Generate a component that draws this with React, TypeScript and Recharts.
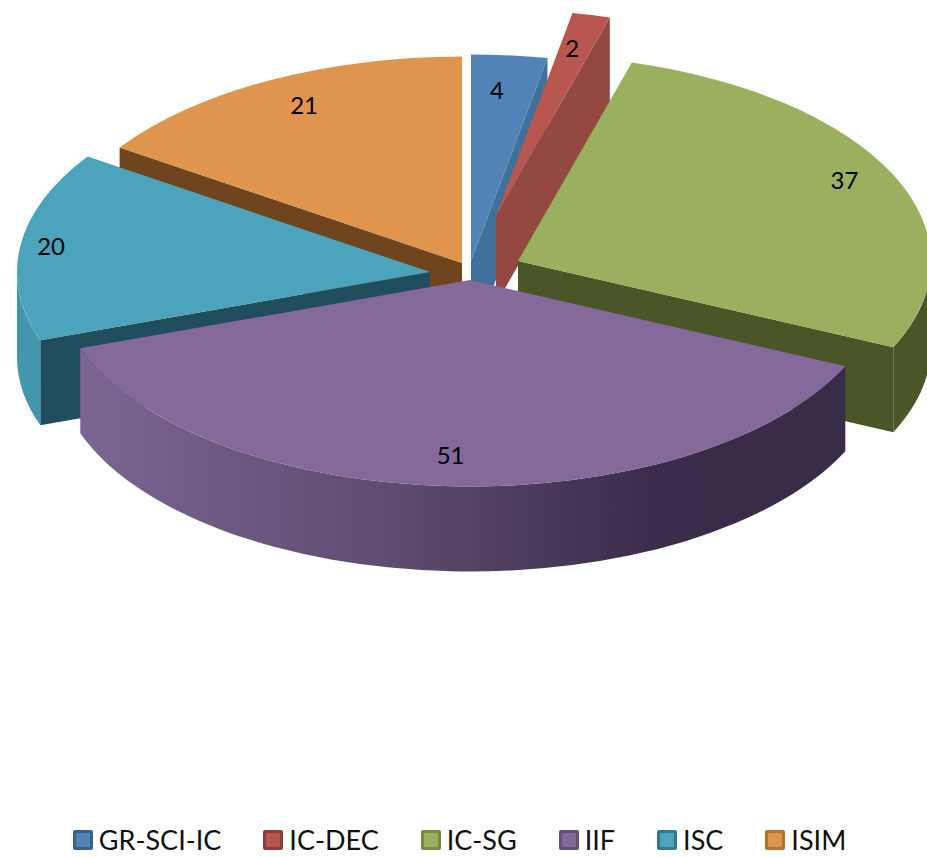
import React from 'react';
import { PieChart, Pie, Legend } from 'recharts';

const NAMES = ['GR-SCI-IC', 'IC-DEC', 'IC-SG', 'IIF', 'ISC', 'ISIM'];
const VALUES = [4, 2, 37, 51, 20, 21];

const TOP_COLORS = ['#5183b6', '#b8574f', '#9bb05e', '#85699b', '#4ba3bc', '#e0954f'];
const FACE_COLORS = ['#40709c', '#934842', '#4a5528', '#5f4c70', '#214e5c', '#6e451e'];
const RIM_COLORS = ['#40709c', '#934842', '#4a5528', 'url(#iifRim)', '#4496ac', '#b87a3e'];
const LEGEND_BORDERS = ['#38618c', '#8c3f3a', '#748a42', '#65507a', '#34788c', '#b0722f'];

// how far each slice is pulled out of the pie, in pixels
const SHIFT_X = [1, 26, 48, 0, -40, -8];
const SHIFT_Y = [-19, -64, -19, 0, -8, -17];
const DEPTHS = [85, 88, 85, 85, 85, 85];
const LABEL_RADIUS = [0.83, 0.8, 0.87, 0.855, 0.925, 0.84];
const LABEL_NUDGE_X = [-6, 0, 0, -3, 0, 5];
const LABEL_NUDGE_Y = [-1, -8, -7, -2, -2, -5];

// back-most slices go first, the big front slice goes last
const DRAW_ORDER = ['GR-SCI-IC', 'IC-DEC', 'IC-SG', 'ISIM', 'ISC', 'IIF'];

const data = NAMES.map((name, i) => ({ name, value: VALUES[i] }));

const SQUASH = 0.5;
const RAD = Math.PI / 180;

const point = (cx: number, cy: number, r: number, clock: number) => ({
  x: cx + r * Math.sin(clock * RAD),
  y: cy - r * SQUASH * Math.cos(clock * RAD),
});

const SliceShape = (props: any, only: string) => {
  if (props.name !== only) return <g />;
  const i = NAMES.indexOf(props.name);
  const depth = DEPTHS[i];
  const cx = props.cx + SHIFT_X[i];
  const cy = props.cy + SHIFT_Y[i];
  const r = props.outerRadius;
  const ry = r * SQUASH;
  const a = 90 - props.startAngle;
  const b = 90 - props.endAngle;
  const pa = point(cx, cy, r, a);
  const pb = point(cx, cy, r, b);
  const large = b - a > 180 ? 1 : 0;
  const top = `M${cx},${cy} L${pa.x},${pa.y} A${r},${ry} 0 ${large} 1 ${pb.x},${pb.y} Z`;

  const face = (p: { x: number; y: number }) =>
    `M${cx},${cy} L${p.x},${p.y} L${p.x},${p.y + depth} L${cx},${cy + depth} Z`;

  let rim = null;
  const from = Math.max(a, 90);
  const to = Math.min(b, 270);
  if (to > from) {
    const p1 = point(cx, cy, r, from);
    const p2 = point(cx, cy, r, to);
    const big = to - from > 180 ? 1 : 0;
    rim = (
      <path
        d={`M${p1.x},${p1.y} A${r},${ry} 0 ${big} 1 ${p2.x},${p2.y} L${p2.x},${p2.y + depth} A${r},${ry} 0 ${big} 0 ${p1.x},${p1.y + depth} Z`}
        fill={RIM_COLORS[i]}
      />
    );
  }

  return (
    <g>
      {Math.sin(a * RAD) < 0 && <path d={face(pa)} fill={FACE_COLORS[i]} />}
      {Math.sin(b * RAD) > 0 && <path d={face(pb)} fill={FACE_COLORS[i]} />}
      {rim}
      <path d={top} fill={TOP_COLORS[i]} />
    </g>
  );
};

const renderLabel = (props: any) => {
  const i = NAMES.indexOf(props.name);
  const p = point(
    props.cx + SHIFT_X[i],
    props.cy + SHIFT_Y[i],
    props.outerRadius * LABEL_RADIUS[i],
    90 - props.midAngle
  );
  return (
    <text
      x={p.x + LABEL_NUDGE_X[i]}
      y={p.y + LABEL_NUDGE_Y[i]}
      textAnchor="middle"
      dominantBaseline="central"
      fontFamily="Lato, sans-serif"
      fontSize={24}
      fill="#000"
    >
      {props.value}
    </text>
  );
};

const renderLegend = () => (
  <div style={{ display: 'flex', justifyContent: 'center', paddingTop: 6, fontFamily: 'Lato, sans-serif', fontSize: 27, color: '#111' }}>
    {NAMES.map((name, i) => (
      <div key={name} style={{ display: 'flex', alignItems: 'center', marginLeft: i === 0 ? 0 : 42 }}>
        <span
          style={{
            boxSizing: 'border-box',
            width: 20,
            height: 20,
            marginRight: 6,
            background: TOP_COLORS[i],
            border: `3px solid ${LEGEND_BORDERS[i]}`,
            borderRadius: 2,
          }}
        />
        {name}
      </div>
    ))}
  </div>
);

export default function App() {
  return (
    <div style={{ position: 'absolute', left: 0, top: 0, background: '#fff' }}>
      <PieChart width={927} height={857} margin={{ top: 0, right: 0, bottom: 0, left: 0 }}>
        <defs>
          <linearGradient id="iifRim" gradientUnits="userSpaceOnUse" x1="80" y1="0" x2="845" y2="0">
            <stop offset="0%" stopColor="#7b6593" />
            <stop offset="40%" stopColor="#5f4c70" />
            <stop offset="75%" stopColor="#3a2c4a" />
            <stop offset="100%" stopColor="#392c47" />
          </linearGradient>
        </defs>
        {DRAW_ORDER.map((only, n) => (
          <Pie
            key={only}
            data={data}
            dataKey="value"
            nameKey="name"
            cx={470}
            cy={280}
            outerRadius={413}
            startAngle={90}
            endAngle={-270}
            stroke="none"
            isAnimationActive={false}
            labelLine={false}
            label={n === DRAW_ORDER.length - 1 ? renderLabel : false}
            shape={(props: any) => SliceShape(props, only)}
          />
        ))}
        <Legend
          content={renderLegend}
          wrapperStyle={{ left: -4, width: 927, bottom: 0, height: 40 }}
        />
      </PieChart>
    </div>
  );
}
